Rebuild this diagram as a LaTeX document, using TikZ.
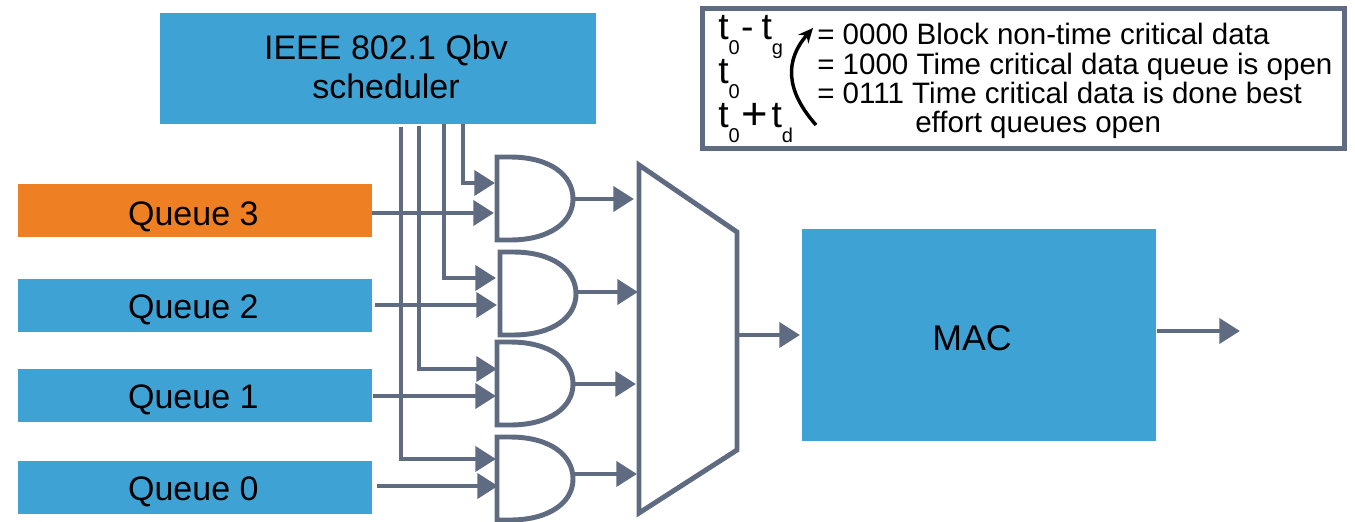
\documentclass[tikz,border=0pt]{standalone}
\usepackage{fontspec}
\setmainfont{Liberation Sans}
\usetikzlibrary{arrows.meta}
\definecolor{wire}{HTML}{5F6B80}
\definecolor{bluebox}{HTML}{3EA2D4}
\definecolor{orangebox}{HTML}{EE7F22}
\tikzset{
  x=0.75pt,y=-0.75pt,
  conn/.style={draw=wire,line width=3.7pt,-{Triangle[length=15.5pt,width=18.5pt]}},
  gateline/.style={draw=wire,line width=3.7pt,fill=white,line join=miter},
  block/.style={rectangle,draw=none,fill=#1,inner sep=0pt,align=center,text=black,font=\fontsize{25.5}{29}\selectfont},
  single/.style={text height=#1,text depth=0pt},
  queuebox/.style={minimum width=265.5pt,minimum height=39.75pt},
  legendtxt/.style={anchor=base west,inner sep=0pt,font=\fontsize{22.15}{26}\selectfont},
  timetxt/.style={anchor=base west,inner sep=0pt,font=\fontsize{28}{32}\selectfont},
  pics/andgate/.style args={#1/#2}{code={
    \path[gateline] (0,0) -- (13,0) .. controls (53,0) and (#2,18) .. (#2,42)
      .. controls (#2,65) and (53,#1) .. (13,#1) -- (0,#1) -- cycle;
  }}
}
\newcommand{\sub}[1]{\raisebox{-0.42em}{\fontsize{15}{15}\selectfont #1}}
\begin{document}
\begin{tikzpicture}
\useasboundingbox (0,0) rectangle (1355,521);
% blocks
\node[block=bluebox,minimum width=327pt,minimum height=83.25pt] (sched) at (378,68.5) {\hspace*{12pt}IEEE 802.1 Qbv\\\hspace*{12pt}scheduler\rule[-3pt]{0pt}{3pt}};
\node[block=orangebox,single=23pt,queuebox] (q3) at (195,210.5) {Queue 3\hspace*{2.5pt}};
\node[block=bluebox,single=20pt,queuebox] (q2) at (195,305.5) {Queue 2\hspace*{2.5pt}};
\node[block=bluebox,single=20pt,queuebox] (q1) at (195,395) {Queue 1\hspace*{2.5pt}};
\node[block=bluebox,single=20pt,queuebox] (q0) at (195,487.5) {Queue 0\hspace*{2.5pt}};
\node[block=bluebox,single=23pt,minimum width=265.5pt,minimum height=159pt,font=\fontsize{26.8}{29}\selectfont] (mac) at (979,335) {MAC\hspace*{10.5pt}};
% gates
\pic at (497,157) {andgate=83/76};
\pic at (500,252) {andgate=83/76};
\pic at (497,342) {andgate=83/76};
\pic at (497,437) {andgate=83/76};
\path[gateline] (639,165) -- (737,232) -- (737,450) -- (639,513) -- cycle;
% connector ends
\coordinate (s3) at (463,124);
\coordinate (s2) at (444,124);
\coordinate (s1) at (419,126);
\coordinate (s0) at (401,127);
\coordinate (g3a) at (495,183);
\coordinate (g3b) at (494,213);
\coordinate (g2a) at (496,278);
\coordinate (g2b) at (497,305);
\coordinate (g1a) at (497,369);
\coordinate (g1b) at (496,396);
\coordinate (g0a) at (496,459);
\coordinate (g0b) at (498,486);
\coordinate (o3a) at (573,199);
\coordinate (o3b) at (634,199);
\coordinate (o2a) at (576,292);
\coordinate (o2b) at (638,292);
\coordinate (o1a) at (573,384);
\coordinate (o1b) at (636,384);
\coordinate (o0a) at (573,474);
\coordinate (o0b) at (637,474);
\coordinate (m1) at (737,335);
\coordinate (m2) at (800,335);
\coordinate (macout) at (1240,331);
\coordinate (macoutstart) at (1157,331);
\coordinate (q2s) at (375,305);
\coordinate (q1s) at (373,396);
\coordinate (q0s) at (377,486);
\coordinate (q3s) at (372,213);
% connectors
\draw[conn] (q3s) -- (g3b);
\draw[conn] (q2s) -- (g2b);
\draw[conn] (q1s) -- (g1b);
\draw[conn] (q0s) -- (g0b);
\draw[conn] (s3) |- (g3a);
\draw[conn] (s2) |- (g2a);
\draw[conn] (s1) |- (g1a);
\draw[conn] (s0) |- (g0a);
\draw[conn] (o3a) -- (o3b);
\draw[conn] (o2a) -- (o2b);
\draw[conn] (o1a) -- (o1b);
\draw[conn] (o0a) -- (o0b);
\draw[conn] (m1) -- (m2);
\draw[conn] (macoutstart) -- (macout);
% legend
\node[draw=wire,line width=3.75pt,fill=white,minimum width=481.5pt,minimum height=105.5pt,inner sep=0pt] (legend) at (1023,78.5) {};
\node[legendtxt] (l1) at (817,44) {= 0000 Block non-time critical data};
\node[legendtxt] (l2) at (817,74) {= 1000 Time critical data queue is open};
\node[legendtxt] (l3) at (817,103) {= 0111 Time critical data is done best};
\node[legendtxt] (l4) at (915,132) {effort queues open};
\node[timetxt] (t1) at (718,39) {t\sub{0}\hspace{1pt}-\hspace{6pt}t\sub{g}};
\node[timetxt] (t2) at (718,83) {t\sub{0}};
\node[timetxt] (t3) at (718,127) {t\sub{0}\hspace{1pt}\raisebox{-2pt}{\fontsize{34}{34}\selectfont +}\hspace{3pt}t\sub{d}};
\coordinate (cs) at (816,125);
\coordinate (ce) at (813,28);
\draw[black,line width=2.6pt,-{Stealth[length=11pt,width=10pt]}] (cs) .. controls (785,90) and (785,60) .. (ce);
\end{tikzpicture}
\end{document}
